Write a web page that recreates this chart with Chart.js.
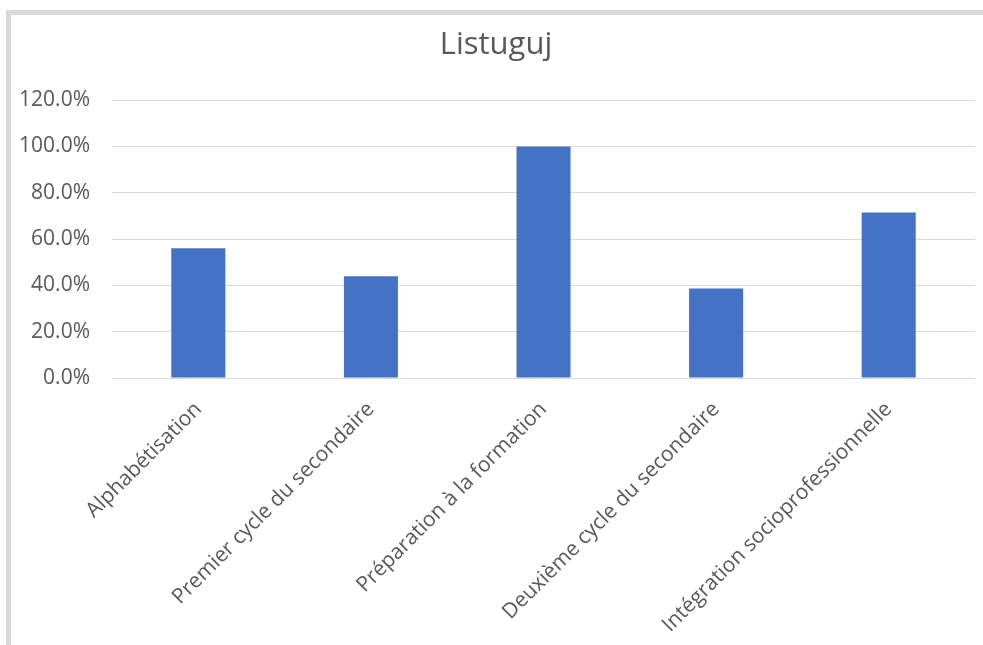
<!DOCTYPE html>
<html>
<head>
<meta charset="utf-8">
<script src="https://cdn.jsdelivr.net/npm/chart.js@4/dist/chart.umd.min.js"></script>
<style>
  body { margin: 0; background: #fff; }
  #frame {
    position: absolute; left: 6px; top: 10px;
    width: 972px; height: 630px;
    border-left: 5px solid #d9d9d9;
    border-top: 5px solid #d9d9d9;
    background: #fff;
  }
  #barChart { display: block; }
</style>
</head>
<body>
<div id="frame">
  <canvas id="barChart" width="972" height="630"></canvas>
</div>
<script>
// programmes and completion rates (%)
var programmes = [
  "Alphabétisation",
  "Premier cycle du secondaire",
  "Préparation à la formation",
  "Deuxième cycle du secondaire",
  "Intégration socioprofessionnelle"
];
var taux = [56.0, 44.0, 100.0, 38.7, 71.5];
var yTickLabels = ["0.0%", "20.0%", "40.0%", "60.0%", "80.0%", "100.0%", "120.0%"];

var grey = '#595959';
var font = "'Open Sans', sans-serif";

var ctx = document.getElementById("barChart").getContext('2d');
var myBarChart = new Chart(ctx, {
  type: 'bar',
  data: {
    labels: programmes,
    datasets: [{
      label: "Listuguj",
      data: taux,
      backgroundColor: '#4472c4',
      borderWidth: 0,
      categoryPercentage: 1,
      barPercentage: 0.313
    }]
  },
  options: {
    responsive: false,
    animation: false,
    layout: { padding: { left: 6, right: 8, top: 0, bottom: 0 } },
    plugins: {
      legend: { display: false },
      tooltip: { enabled: false },
      title: {
        display: true,
        text: "Listuguj",
        color: grey,
        font: { family: font, size: 31, weight: 'normal' },
        padding: { top: 12, bottom: 36 }
      }
    },
    scales: {
      x: {
        grid: { display: false },
        border: { display: false },
        ticks: {
          color: grey,
          font: { family: font, size: 21 },
          minRotation: 45,
          maxRotation: 45,
          padding: 11
        },
        afterFit: function(scale) { scale.height = 267; }
      },
      y: {
        min: 0,
        max: 120,
        grid: { color: '#d9d9d9', lineWidth: 1, drawTicks: false },
        border: { display: false },
        ticks: {
          stepSize: 20,
          color: grey,
          font: { family: font, size: 21 },
          padding: 22,
          callback: function(value, i) { return yTickLabels[i]; }
        },
        afterFit: function(scale) { scale.width = 95; }
      }
    }
  }
});
</script>
</body>
</html>
